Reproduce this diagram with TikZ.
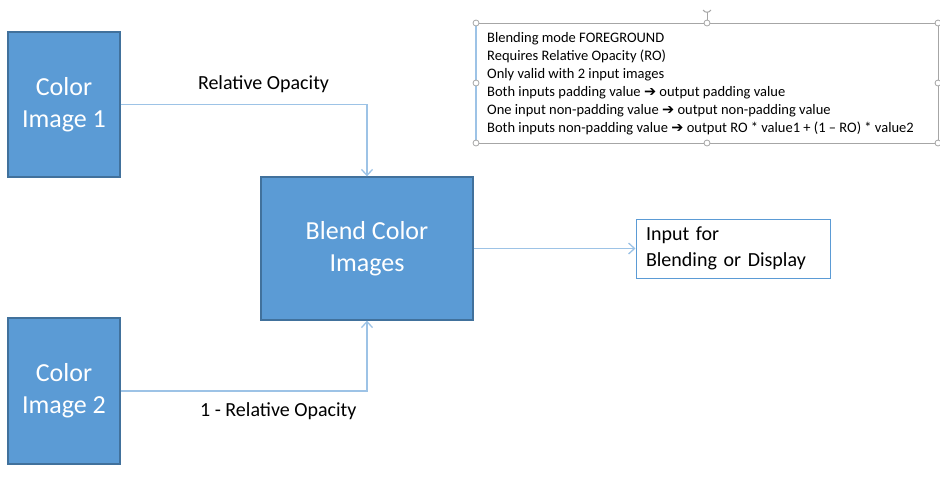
\documentclass[tikz,border=0pt]{standalone}
\usepackage{fontspec}
\setmainfont{Carlito}
\newfontfamily\symfont{DejaVu Sans}
\usetikzlibrary{arrows.meta}
\definecolor{boxblue}{HTML}{5B9BD5}
\definecolor{boxedge}{HTML}{41719C}
\definecolor{linkblue}{HTML}{9DC3E6}
\definecolor{handlegray}{HTML}{A6A6A6}
\newcommand{\heavyarrow}{{\symfont\bfseries\char"2794}}

\begin{document}
\begin{tikzpicture}[x=1pt,y=-1pt,
					every node/.style = {font=\fontsize{20}{24}\selectfont},
					link/.style = {draw=linkblue, line width=1.3pt, -{Straight Barb[length=6pt,width=11pt]}}]

\tikzstyle{image_box}=[rectangle, draw=boxedge, line width=1.3pt, fill=boxblue, text=white, align=center, font=\fontsize{26}{32}\selectfont]
\tikzstyle{handle}=[circle, draw=handlegray, fill=white, line width=0.8pt, inner sep=0pt, minimum size=6pt]

\useasboundingbox (0,0) rectangle (940,483);

\node[image_box, minimum width=112pt, minimum height=145pt] (img_one) at (64,104.5) {Color\\Image 1};
\node[image_box, minimum width=112pt, minimum height=146pt] (img_two) at (64,391) {Color\\Image 2};
\node[image_box, minimum width=212pt, minimum height=143pt] (blend) at (367,248.5) {Blend Color\\Images};
\node[rectangle, draw=boxblue, line width=1pt, minimum width=194pt, minimum height=59pt, inner xsep=10pt, text width=174pt, align=left, font=\fontsize{20}{26}\selectfont] (output) at (733,248.5) {Input for\\Blending or Display};

% note text box
\draw[handlegray, line width=1pt] (476,23) rectangle (938,143);
\draw[linkblue, line width=1.3pt] (476,23) -- (476,143);
\node[anchor=north west, inner sep=0pt, align=left, font=\fontsize{14.5}{18}\selectfont] (note) at (487,32) {Blending mode FOREGROUND\\
Requires Relative Opacity (RO)\\
Only valid with 2 input images\\
Both inputs padding value \heavyarrow{} output padding value\\
One input non-padding value \heavyarrow{} output non-padding value\\
Both inputs non-padding value \heavyarrow{} output RO * value1 + (1 -- RO) * value2};
\coordinate (rot) at (707,12);
\draw[handlegray, line width=1pt] (707,23) -- (rot);
\draw[handlegray, line width=1pt] (703,10) .. controls (705,13) and (709,13) .. (711,10);
\foreach \hx/\hy in {476/23, 707/23, 938/23, 476/83, 938/83, 476/143, 707/143, 938/143}
	\node[handle] at (\hx,\hy) {};

\draw[link] (img_one.east) -| (blend.north) node[pos=0.29, above=8pt] {Relative Opacity};
\draw[link] (img_two.east) -| (blend.south) node[pos=0.32, below=8pt] {1 - Relative Opacity};
\draw[link] (blend.east) -- (output.west);
\end{tikzpicture}
\end{document}
